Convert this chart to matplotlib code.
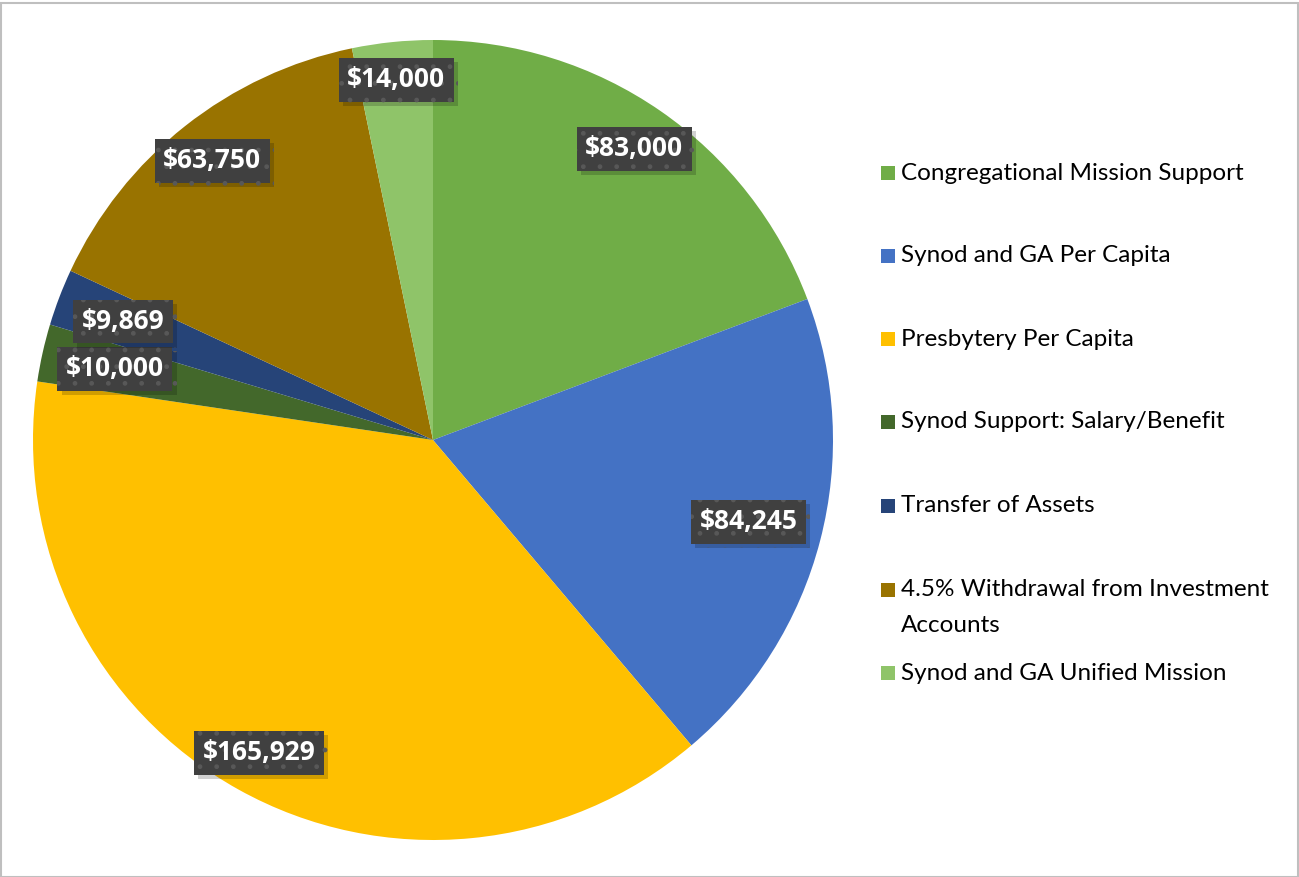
import matplotlib.pyplot as plt
from matplotlib.patches import Rectangle
import matplotlib.patheffects as pe
import numpy as np

categories = ['Congregational Mission Support', 'Synod and GA Per Capita',
              'Presbytery Per Capita', 'Synod Support: Salary/Benefit',
              'Transfer of Assets', '4.5% Withdrawal from Investment\nAccounts',
              'Synod and GA Unified Mission']
values = [83000, 84245, 165929, 10000, 9869, 63750, 14000]
value_labels = ['$83,000', '$84,245', '$165,929', '$10,000', '$9,869', '$63,750', '$14,000']
colors = ['#70AD47', '#4472C4', '#FFC000', '#43682B', '#264478', '#997300', '#8FC469']
label_r = [0.885, 0.815, 0.895, 0.815, 0.83, 0.89, 0.905]

W, H = 1299, 877
fig = plt.figure(figsize=(W / 100, H / 100), dpi=100)
fig.patch.set_facecolor('white')

cx, cy, R = 433, 440, 400
ax = fig.add_axes([(cx - R) / W, (H - cy - R) / H, 2 * R / W, 2 * R / H])
wedges, _ = ax.pie(values, colors=colors, startangle=90, counterclock=False,
                   radius=1, wedgeprops=dict(linewidth=0))
ax.set_xlim(-1, 1)
ax.set_ylim(-1, 1)
ax.set_aspect('equal')
ax.axis('off')

for w, lab, r in zip(wedges, value_labels, label_r):
    mid = np.deg2rad((w.theta1 + w.theta2) / 2)
    t = ax.text(r * np.cos(mid), r * np.sin(mid), lab, ha='center', va='center',
                color='white', fontsize=19, fontweight='bold', family='Open Sans',
                bbox=dict(boxstyle='square,pad=0.32', facecolor='#404040',
                          edgecolor='#585858', linewidth=0, hatch='.'))
    t.get_bbox_patch().set_path_effects([
        pe.SimplePatchShadow(offset=(3, -3), shadow_rgbFace='black', alpha=0.18),
        pe.Normal()])

# legend
leg_y = [173, 256, 339, 422, 506, 590, 673]
for lab, c, y in zip(categories, colors, leg_y):
    fig.patches.append(Rectangle((881 / W, (H - y - 7) / H), 14 / W, 14 / H,
                                 transform=fig.transFigure, facecolor=c,
                                 edgecolor='none'))
    fig.text(901 / W, (H - y) / H, lab.split('\n')[0], ha='left', va='center',
             fontsize=17.5, family='Lato', color='black')
    if '\n' in lab:
        fig.text(901 / W, (H - y - 35) / H, lab.split('\n')[1], ha='left', va='center',
                 fontsize=17.5, family='Lato', color='black')

fig.patches.append(Rectangle((0.5 / W, 0.5 / H), 1 - 1.5 / W, 1 - 3 / H,
                             transform=fig.transFigure, facecolor='none',
                             edgecolor='#BFBFBF', linewidth=1.5))

fig.savefig('out.png', dpi=100)
